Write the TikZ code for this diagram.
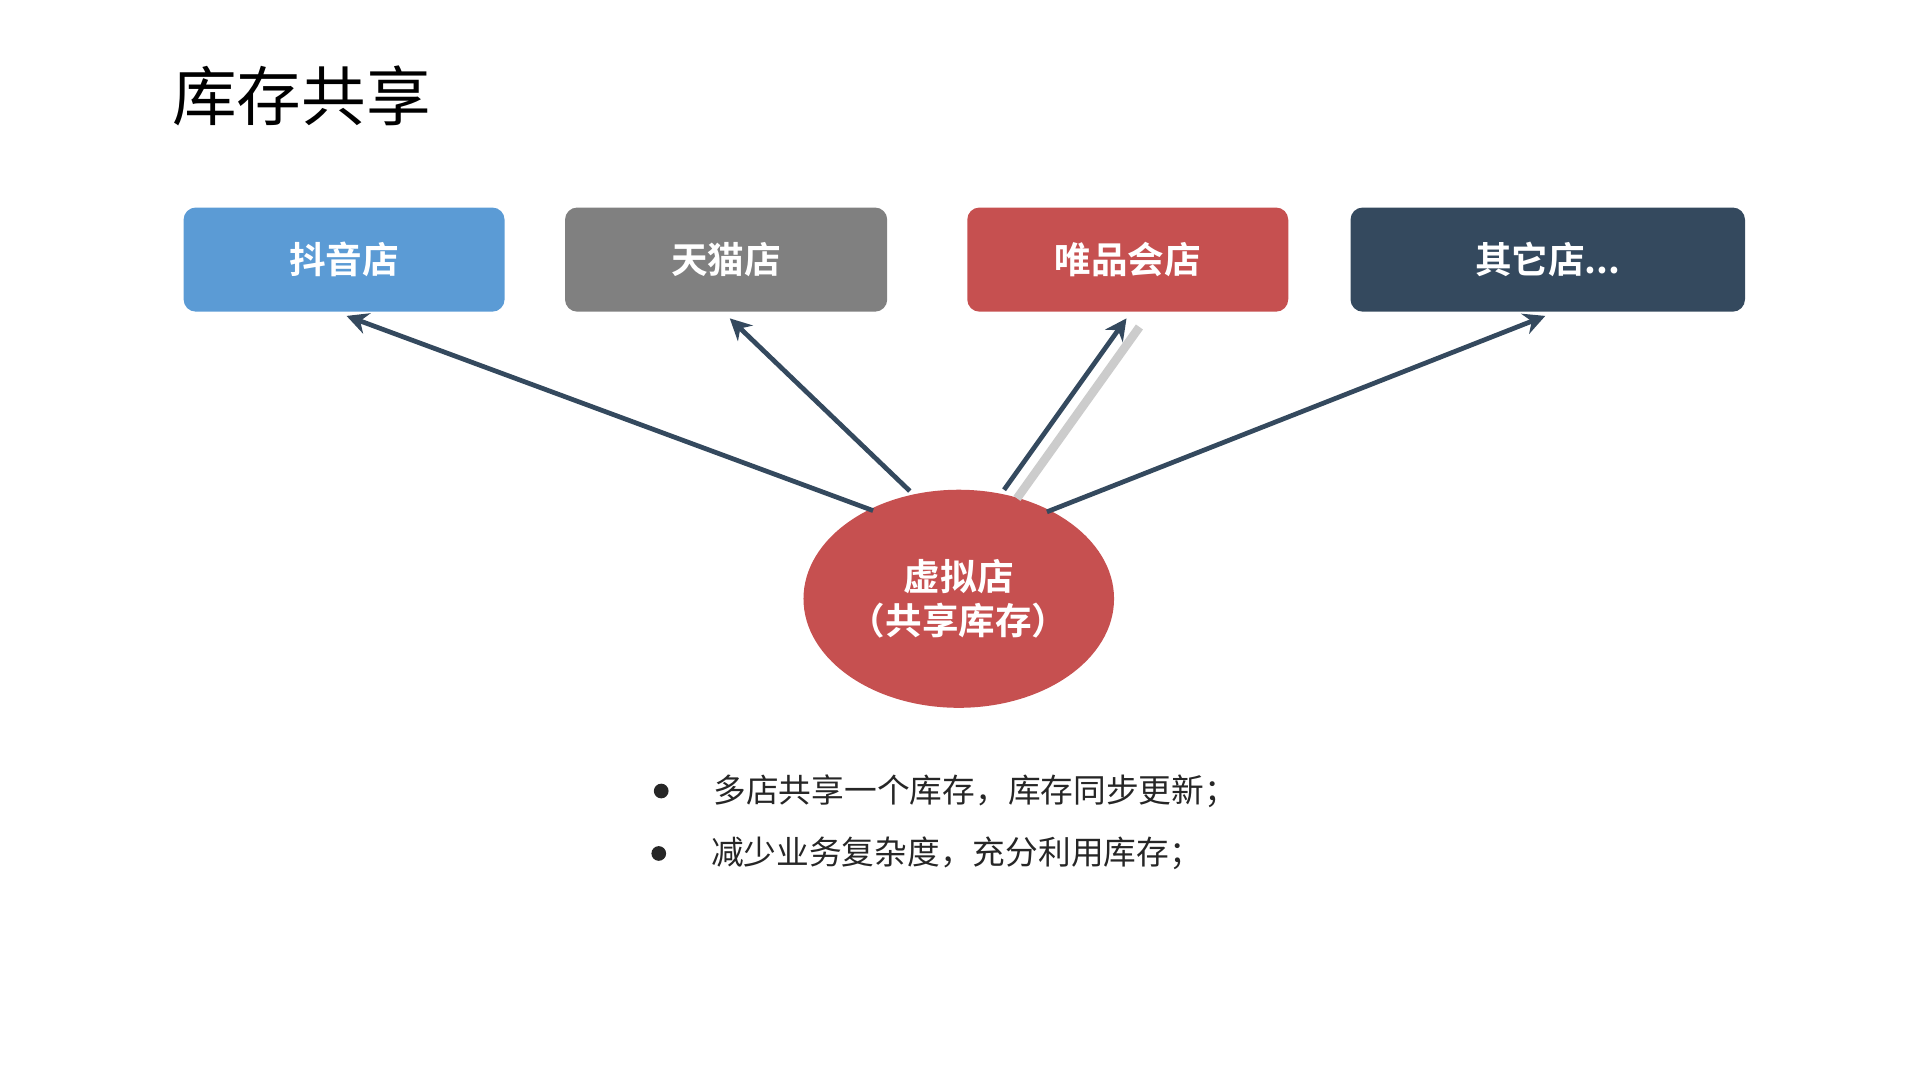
\documentclass[tikz,border=0pt]{standalone}
\usepackage{fontspec}
\setmainfont{Noto Sans CJK SC}[BoldFont={Noto Sans CJK SC Bold}]
\usetikzlibrary{arrows.meta,shapes.geometric}
\definecolor{cblue}{HTML}{5B9BD5}
\definecolor{cgray}{HTML}{808080}
\definecolor{cred}{HTML}{C65050}
\definecolor{cdark}{HTML}{34495E}
\definecolor{ctext}{HTML}{262626}
\tikzset{
 shop/.style={rounded corners=0.1cm,minimum height=0.85cm,text=white,font=\fontsize{8.5pt}{10pt}\selectfont\bfseries,inner sep=0pt},
 conn/.style={draw=cdark,line width=1.1pt,-{Stealth[length=5pt,width=5pt]}},
 bul/.style={anchor=west,text=ctext,font=\fontsize{7.6pt}{9pt}\selectfont,inner sep=0pt}
}
\begin{document}
\begin{tikzpicture}[x=0.01cm,y=-0.01cm]
\useasboundingbox (0,0) rectangle (1568,882);
\node[anchor=west,inner sep=0pt,font=\fontsize{15pt}{18pt}\selectfont] (title) at (140,78) {库存共享};
\node[shop,fill=cblue,minimum width=2.62cm] (b1) at (281,212) {抖音店};
\node[shop,fill=cgray,minimum width=2.63cm] (b2) at (593,212) {天猫店};
\node[shop,fill=cred,minimum width=2.62cm] (b3) at (921,212) {唯品会店};
\node[shop,fill=cdark,minimum width=3.22cm] (b4) at (1264,212) {其它店...};
\node[ellipse,fill=cred,minimum width=2.04cm,minimum height=1.78cm,inner sep=0pt,text=white,align=center,font=\fontsize{8.5pt}{10pt}\selectfont\bfseries] (v) at (783,489) {虚拟店\\（共享库存）};
\coordinate (s1) at (713,417); \coordinate (s2) at (743,401);
\coordinate (s3) at (820,400); \coordinate (s4) at (855,418);
\coordinate (t1) at (283,258); \coordinate (t2) at (596,260);
\coordinate (t3) at (920,260); \coordinate (t4) at (1262,258);
\draw[conn] (s1) -- (t1);
\draw[conn] (s2) -- (t2);
\draw[draw=gray!40,line width=2pt] ([xshift=3pt,yshift=-2pt]s3) -- ([xshift=3pt,yshift=-2pt]t3);
\draw[conn] (s3) -- (t3);
\draw[conn] (s4) -- (t4);
\fill[ctext] (540,646) circle (6) coordinate (d1);
\fill[ctext] (538,697) circle (6) coordinate (d2);
\node[bul] (l1) at (582,646) {多店共享一个库存，库存同步更新；};
\node[bul] (l2) at (580,697) {减少业务复杂度，充分利用库存；};
\end{tikzpicture}
\end{document}
